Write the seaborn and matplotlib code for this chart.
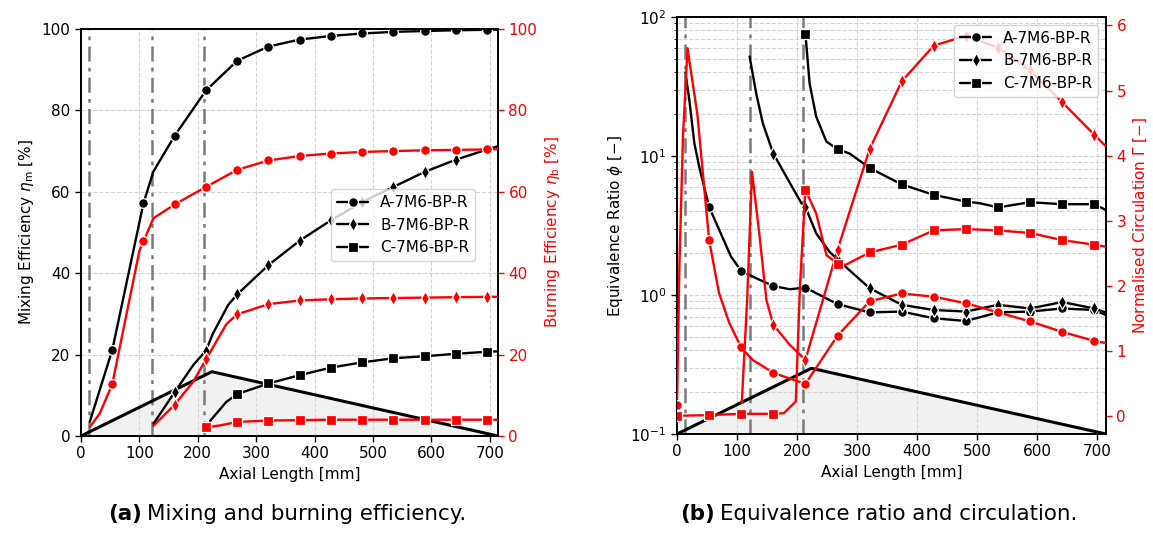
import matplotlib
matplotlib.use("Agg")
import matplotlib.pyplot as plt
import seaborn as sns
from matplotlib.lines import Line2D

# ---------------- data ----------------
MARK_X = [0, 53.5, 107, 160.5, 214, 267.5, 321, 374.5, 428, 481.5, 535, 588.5, 642, 695.5]
LABELS = ["A-7M6-BP-R", "B-7M6-BP-R", "C-7M6-BP-R"]
MARKERS = ["o", "d", "s"]
INJECTORS = [13.5, 121, 210]

# (a) mixing efficiency [%]
mixA_x = [15, 53.5, 107, 124, 160.5, 214, 267.5, 321, 374.5, 428, 481.5, 535, 588.5, 642, 695.5, 714]
mixA_y = [3.5, 21.1, 57.2, 65.0, 73.8, 84.9, 92.2, 95.7, 97.4, 98.3, 98.9, 99.3, 99.5, 99.7, 99.8, 99.85]
mixB_x = [124, 160.5, 192, 214, 226, 252, 267.5, 321, 374.5, 428, 481.5, 535, 588.5, 642, 695.5, 714]
mixB_y = [3.0, 10.8, 17.4, 21.0, 25.2, 32.2, 34.8, 42.0, 48.0, 53.0, 57.5, 61.2, 64.9, 67.9, 70.4, 71.2]
mixC_x = [221, 249, 267.5, 321, 374.5, 428, 481.5, 535, 588.5, 642, 695.5, 714]
mixC_y = [3.7, 8.4, 10.3, 12.9, 14.95, 16.8, 18.1, 19.1, 19.6, 20.2, 20.7, 20.8]
# (a) burning efficiency [%]
burnA_x = [15, 32, 53.5, 100, 107, 124, 160.5, 214, 267.5, 321, 374.5, 428, 481.5, 535, 588.5, 642, 695.5, 714]
burnA_y = [2.2, 5.5, 12.7, 45.5, 47.8, 53.5, 56.9, 61.2, 65.4, 67.7, 68.8, 69.4, 69.8, 70.0, 70.2, 70.3, 70.4, 70.5]
burnB_x = [124, 160.5, 192, 214, 249, 267.5, 321, 374.5, 428, 481.5, 535, 588.5, 642, 695.5, 714]
burnB_y = [2.5, 7.7, 13.3, 18.8, 27.5, 29.9, 32.4, 33.3, 33.6, 33.8, 33.9, 34.0, 34.1, 34.2, 34.2]
burnC_x = [214, 238, 267.5, 321, 374.5, 428, 481.5, 535, 588.5, 642, 695.5, 714]
burnC_y = [2.1, 2.6, 3.45, 3.8, 3.9, 4.0, 4.0, 4.0, 4.0, 4.0, 4.0, 4.0]

# (b) equivalence ratio [-]
phiA_x = [14, 20.5, 29, 37, 53.5, 90, 107, 132, 160.5, 188, 214, 267.5, 321, 374.5, 428, 481.5, 535, 588.5, 642, 695.5, 714]
phiA_y = [40, 25.3, 12.3, 8.4, 4.3, 1.89, 1.49, 1.32, 1.16, 1.10, 1.13, 0.86, 0.75, 0.76, 0.68, 0.65, 0.75, 0.76, 0.80, 0.78, 0.72]
phiB_x = [121, 132, 143, 160.5, 207, 214, 232, 254, 267.5, 299, 321, 374.5, 428, 481.5, 535, 588.5, 642, 695.5, 714]
phiB_y = [52, 28.2, 17.2, 10.4, 4.6, 4.3, 2.78, 2.05, 1.80, 1.36, 1.12, 0.85, 0.78, 0.76, 0.85, 0.80, 0.89, 0.80, 0.75]
phiC_x = [214, 221, 232, 249, 267.5, 288, 321, 374.5, 428, 481.5, 505, 535, 588.5, 642, 695.5, 714]
phiC_y = [76, 33.3, 19.2, 12.7, 11.2, 10.4, 8.2, 6.25, 5.25, 4.7, 4.57, 4.27, 4.65, 4.5, 4.5, 4.1]
# (b) normalised circulation [-]
circA_x = [0, 4, 10, 17.5, 34, 53.5, 70, 87, 107, 126, 160.5, 214, 267.5, 321, 374.5, 428, 481.5, 535, 588.5, 642, 695.5, 714]
circA_y = [0.16, 2.3, 4.3, 5.65, 4.63, 2.70, 1.89, 1.43, 1.05, 0.86, 0.66, 0.49, 1.23, 1.76, 1.88, 1.83, 1.73, 1.59, 1.45, 1.29, 1.15, 1.12]
circB_x = [108, 117, 125, 137, 149, 160.5, 188, 214, 267.5, 321, 374.5, 428, 481.5, 535, 588.5, 642, 695.5, 714]
circB_y = [0.2, 1.8, 3.75, 2.81, 1.78, 1.40, 1.09, 0.86, 2.55, 4.10, 5.14, 5.69, 5.84, 5.66, 5.31, 4.82, 4.32, 4.15]
circC_x = [0, 53.5, 107, 160.5, 178, 198, 205, 214, 232, 249, 267.5, 281, 321, 374.5, 428, 481.5, 535, 588.5, 642, 695.5, 714]
circC_y = [0.0, 0.01, 0.03, 0.03, 0.04, 0.22, 2.0, 3.47, 3.11, 2.47, 2.34, 2.32, 2.51, 2.63, 2.85, 2.87, 2.85, 2.81, 2.70, 2.63, 2.60]

# combustor geometry schematic
triA_x = [0, 224, 714]
triA_y = [0, 15.8, 0]
triB_x = [0, 224, 715]
triB_y = [-0.28, 0.73, -0.28]

# ---------------- style ----------------
sns.set_style("ticks", {"axes.grid": True, "grid.linestyle": "--", "grid.color": "#d4d4d4",
                        "axes.edgecolor": "black", "xtick.color": "black", "ytick.color": "black",
                        "axes.labelcolor": "black", "text.color": "black"})
plt.rcParams.update({
    "font.family": ["DejaVu Sans"],
    "font.size": 11,
    "axes.labelsize": 11,
    "xtick.labelsize": 11,
    "ytick.labelsize": 11,
    "legend.fontsize": 11,
    "axes.linewidth": 1.3,
    "grid.linewidth": 0.8,
    "xtick.major.size": 4,
    "ytick.major.size": 4,
    "ytick.minor.size": 2.5,
    "xtick.major.width": 1.0,
    "ytick.major.width": 1.0,
})

cap_font = "DejaVu Sans"

W, H = 1153, 543
fig = plt.figure(figsize=(W / 100, H / 100), dpi=100)
axL = fig.add_axes([81 / W, 1 - 436 / H, 417 / W, 407 / H])
axL2 = axL.twinx()
axR = fig.add_axes([677 / W, 1 - 434 / H, 429 / W, 417 / H])
axR2 = axR.twinx()

LW = 1.7
MS = 7
RED = "#ff0000"


def draw(ax, x, y, color, marker):
    idx = [i for i, v in enumerate(x) if v in MARK_X]
    sns.lineplot(x=x, y=y, ax=ax, color=color, marker=marker, markevery=idx,
                 markersize=MS if marker != "d" else MS + 0.5, markeredgecolor="white",
                 markeredgewidth=0.9, linewidth=LW, sort=False, estimator=None,
                 legend=False, zorder=3)


# ---------- (a) ----------
axL.fill(triA_x, triA_y, facecolor="#f1f1f1", edgecolor="none", zorder=0.3)
axL.plot(triA_x, triA_y, color="black", lw=2.2, zorder=1.5)
for xv in INJECTORS:
    axL.axvline(xv, color="#7a7a7a", lw=1.8, ls=(0, (6, 2.5, 1.5, 2.5)), zorder=1.2)
for (x, y), m in zip([(mixA_x, mixA_y), (mixB_x, mixB_y), (mixC_x, mixC_y)], MARKERS):
    draw(axL, x, y, "black", m)
for (x, y), m in zip([(burnA_x, burnA_y), (burnB_x, burnB_y), (burnC_x, burnC_y)], MARKERS):
    draw(axL2, x, y, RED, m)

axL.set_xlim(0, 714)
axL.set_ylim(0, 100)
axL2.set_ylim(0, 100)
axL.set_xticks(range(0, 701, 100))
axL.set_yticks(range(0, 101, 20))
axL2.set_yticks(range(0, 101, 20))
axL.set_xlabel("Axial Length [mm]")
axL.set_ylabel(r"Mixing Efficiency $\eta_\mathrm{m}$ [%]")
axL2.set_ylabel(r"Burning Efficiency $\eta_\mathrm{b}$ [%]", color=RED)
axL2.tick_params(axis="y", colors=RED)
axL2.grid(False)

# ---------- (b) ----------
axR.set_yscale("log")
axR.fill(triB_x, triB_y, facecolor="#f1f1f1", edgecolor="none", zorder=0.3,
         transform=axR2.transData)
axR.plot(triB_x, triB_y, color="black", lw=2.2, zorder=1.5, transform=axR2.transData)
for xv in INJECTORS:
    axR.axvline(xv, color="#7a7a7a", lw=1.8, ls=(0, (6, 2.5, 1.5, 2.5)), zorder=1.2)
for (x, y), m in zip([(phiA_x, phiA_y), (phiB_x, phiB_y), (phiC_x, phiC_y)], MARKERS):
    draw(axR, x, y, "black", m)
for (x, y), m in zip([(circA_x, circA_y), (circB_x, circB_y), (circC_x, circC_y)], MARKERS):
    draw(axR2, x, y, RED, m)

axR.set_xlim(0, 715)
axR.set_ylim(0.1, 100)
axR2.set_ylim(-0.28, 6.13)
axR.set_xticks(range(0, 701, 100))
axR2.set_yticks(range(0, 7))
axR.grid(True, which="both", axis="y", ls="--", color="#d4d4d4", lw=0.8)
axR.grid(True, which="major", axis="x", ls="--", color="#d4d4d4", lw=0.8)
axR.set_xlabel("Axial Length [mm]")
axR.set_ylabel(r"Equivalence Ratio $\phi$ [−]")
axR2.set_ylabel(r"Normalised Circulation $\Gamma$ [−]", color=RED)
axR2.tick_params(axis="y", colors=RED)
axR2.grid(False)

for a in (axL, axL2, axR, axR2):
    for s in a.spines.values():
        s.set_color("black")
        s.set_linewidth(1.3)

handles = [Line2D([], [], color="black", marker=m, markersize=MS, markeredgecolor="white",
                  markeredgewidth=0.9, lw=LW, label=l) for m, l in zip(MARKERS, LABELS)]
legL = axL2.legend(handles=handles, loc="upper left", bbox_to_anchor=(0.6, 0.607),
                   frameon=True, framealpha=0.8, edgecolor="#cccccc", borderaxespad=0)
legR = axR2.legend(handles=handles, loc="upper right", frameon=True, framealpha=0.8,
                   edgecolor="#cccccc")

# captions
for x0, lab, txt in [(108 / W, "(a)", "Mixing and burning efficiency."),
                     (680 / W, "(b)", "Equivalence ratio and circulation.")]:
    t = fig.text(x0, 1 - 520 / H, lab, fontsize=15.4, fontweight="bold", family=cap_font,
                 va="baseline", ha="left")
    plt.annotate(txt, xy=(1, 0), xycoords=t, xytext=(4, 0), textcoords="offset points",
                 fontsize=15.4, family=cap_font, va="bottom", ha="left",
                 annotation_clip=False)

fig.savefig("out.png", dpi=100)
